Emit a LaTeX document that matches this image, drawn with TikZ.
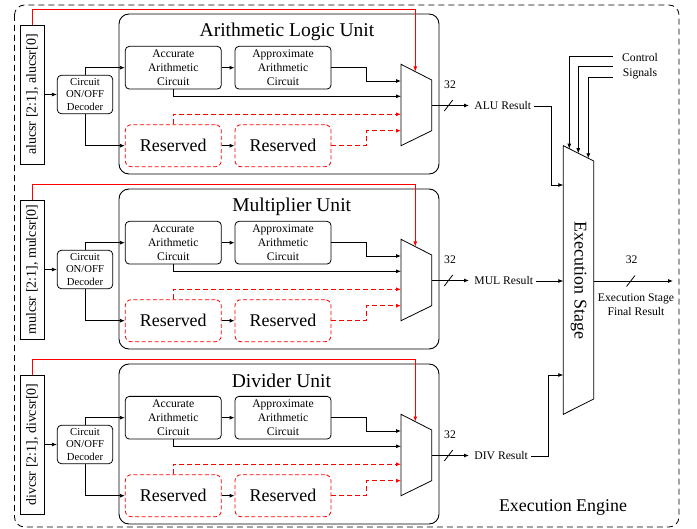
\documentclass[tikz,border=0pt]{standalone}
\usepackage{fontspec}
\setmainfont{Liberation Serif}
\usetikzlibrary{arrows.meta,calc}
\definecolor{myred}{RGB}{255,0,0}
\begin{document}
\begin{tikzpicture}[x=1bp,y=-1bp,
  >={Latex[length=5bp,width=4bp]},
  line width=0.8bp,
  unitbox/.style={draw,line width=0.9bp,rounded corners=10bp,minimum width=320bp,minimum height=160bp,inner sep=0pt},
  regbox/.style={draw,line width=0.9bp,rotate=90,minimum width=139bp,minimum height=24bp,inner sep=0pt,font=\fontsize{14}{16}\selectfont},
  decbox/.style={draw,line width=0.8bp,rounded corners=4bp,minimum width=55.4bp,minimum height=38.4bp,inner sep=0pt,align=center,font=\fontsize{10.7}{13}\selectfont},
  arbox/.style={draw,line width=0.8bp,rounded corners=4bp,minimum width=96bp,minimum height=42.7bp,inner sep=0pt,align=center,font=\fontsize{11.7}{14}\selectfont},
  resbox/.style={draw=myred,line width=0.8bp,dash pattern=on 4bp off 2.5bp,rounded corners=6bp,minimum width=96bp,minimum height=42bp,inner sep=0pt,font=\fontsize{18}{20}\selectfont},
  redl/.style={draw=myred,line width=0.8bp,dash pattern=on 5bp off 3bp},
  small/.style={font=\fontsize{11.7}{14}\selectfont,inner sep=0pt,align=center},
  ttl/.style={font=\fontsize{19.6}{22}\selectfont,inner sep=0pt,anchor=base}]
\useasboundingbox (0,0) rectangle (697,529);
% outer engine
\draw[line width=0.8bp,dash pattern=on 6bp off 4bp,rounded corners=10bp] (14.5,5) rectangle (679,527);
\node[font=\fontsize{18}{20}\selectfont,inner sep=0pt] (engine) at (563,507) {Execution Engine};

\foreach \i/\oy/\tx/\reg/\res/\title in {1/0/287/alucsr/ALU Result/Arithmetic Logic Unit,2/175/291.7/mulcsr/MUL Result/Multiplier Unit,3/350/281.4/divcsr/DIV Result/Divider Unit}{
  \node[unitbox] (unit\i) at (279,94+\oy) {};
  \node[ttl] (title\i) at (\tx,37+\oy) {\title};
  \node[regbox] (reg\i) at (32,94.5+\oy) {\reg{} [2:1], \reg[0]};
  \node[decbox] (dec\i) at (85,94.5+\oy) {Circuit\\ON/OFF\\Decoder};
  \node[arbox] (acc\i) at (173.3,67.7+\oy) {Accurate\\Arithmetic\\Circuit};
  \node[arbox] (app\i) at (283,67.7+\oy) {Approximate\\Arithmetic\\Circuit};
  \node[resbox] (rsa\i) at (173.3,145.7+\oy) {Reserved};
  \node[resbox] (rsb\i) at (283,145.7+\oy) {Reserved};
  % mux
  \draw[line width=0.8bp] (401,64.3+\oy) -- (431.7,80+\oy) -- (431.7,130.7+\oy) -- (401,145.7+\oy) -- cycle;
  \coordinate (mA\i) at (401,81+\oy);
  \coordinate (mB\i) at (401,96.3+\oy);
  \coordinate (mC\i) at (401,114.3+\oy);
  \coordinate (mD\i) at (401,130.7+\oy);
  \coordinate (mO\i) at (431.7,105.5+\oy);
  \coordinate (ctop\i) at (415.3,9.7+\oy);
  \coordinate (sel\i) at (415.3,71.5+\oy);
  % connectors
  \draw[->] (reg\i.south) -- (reg\i.south -| dec\i.west);
  \draw[->] (dec\i.north) |- (acc\i.west);
  \draw[->] (dec\i.south) |- (rsa\i.west);
  \draw[->] (acc\i.east) -- (app\i.west);
  \draw[->] (rsa\i.east) -- (rsb\i.west);
  \draw[->] (acc\i.south) |- (mB\i);
  \draw[->] (app\i.east) -- ++(35,0) |- (mA\i);
  \draw[redl,->] (rsa\i.north) |- (mC\i);
  \draw[redl,->] (rsb\i.east) -- ++(35,0) |- (mD\i);
  \draw[myred,line width=0.9bp,->] (reg\i.east) |- (ctop\i) -- (sel\i);
  % output
  \node[small,anchor=west,inner sep=3bp] (res\i) at (471,106+\oy) {\res};
  \draw[->,shorten >=2bp] (mO\i) -- (mO\i -| res\i.west);
  \draw (444.3,111+\oy) -- (452.7,100+\oy);
  \node[small] (bw\i) at (450,85+\oy) {32};
}

% execution stage
\draw[line width=0.8bp] (563.3,145.7) -- (593.7,161) -- (593.7,399) -- (563.3,414.3) -- cycle;
\node[font=\fontsize{18}{20}\selectfont,rotate=-90,inner sep=0pt] (exst) at (578.5,280.5) {Execution Stage};
\coordinate (ex1) at (563.3,185);
\coordinate (ex2) at (563.3,281);
\coordinate (ex3) at (563.3,375);
\coordinate (exo) at (593.7,281);
\draw[->] (res1.east) -- (551,106) |- (ex1);
\draw[->] (res2.east) -- (ex2);
\draw[->] (res3.east) -- (548.3,456) |- (ex3);

% control signals
\node[small] (ctrl) at (640,66.5) {Control\\[1pt]Signals};
\coordinate (cs1) at (612.7,56);
\coordinate (cs2) at (612.7,66);
\coordinate (cs3) at (612.7,77.3);
\draw[->] (cs1) -| (569.3,148.7);
\draw[->] (cs2) -| (578.3,153.2);
\draw[->] (cs3) -| (588.3,158.3);

% final output
\coordinate (fout) at (673,281);
\draw[->] (exo) -- (fout);
\draw (626.5,286.5) -- (635,275.5);
\node[small] (bwo) at (631.7,260) {32};
\node[small] (final) at (636,305) {Execution Stage\\Final Result};
\end{tikzpicture}
\end{document}
